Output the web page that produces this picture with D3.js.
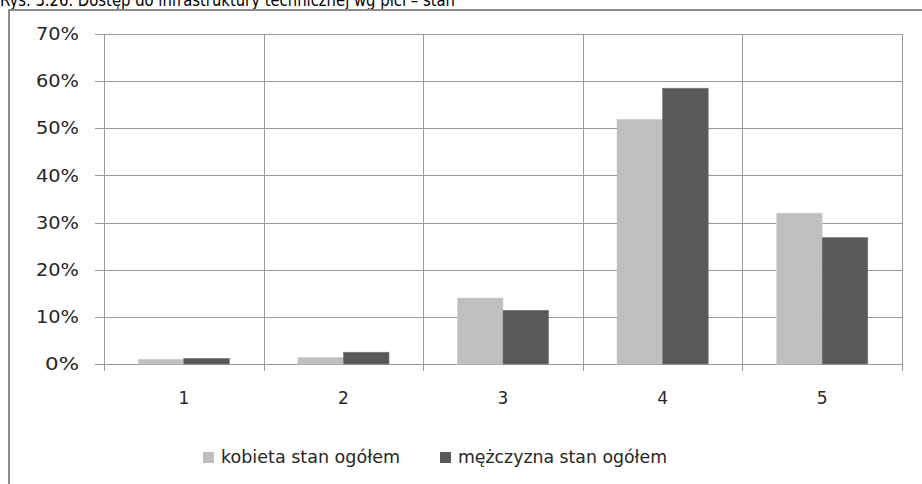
<!DOCTYPE html>
<html>
<head>
<meta charset="utf-8">
<script src="https://cdn.jsdelivr.net/npm/d3@7"></script>
<style>
  body { margin: 0; background: #fff; }
  svg { display: block; font-family: "DejaVu Sans", "Open Sans", sans-serif; }
</style>
</head>
<body>
<svg id="chart" width="922" height="484"></svg>
<script>
const categories = ['1', '2', '3', '4', '5'];
const seriesNames = ['kobieta stan ogółem', 'mężczyzna stan ogółem'];
const kobieta = [0.010, 0.014, 0.140, 0.519, 0.320];
const mezczyzna = [0.012, 0.025, 0.114, 0.585, 0.268];
const yTicks = [0, 0.1, 0.2, 0.3, 0.4, 0.5, 0.6, 0.7];
const colors = ['#bfbfbf', '#595959'];

const svg = d3.select('#chart');
const margin = { top: 34, left: 104 };
const plotW = 902 - margin.left;
const plotH = 364 - margin.top;

// title (cut off at the top, as in the scan)
svg.append('text')
    .attr('x', 0)
    .attr('y', 6)
    .attr('font-size', 17)
    .attr('textLength', 455)
    .attr('lengthAdjust', 'spacingAndGlyphs')
    .attr('fill', '#000')
    .text('Rys. 3.26. Dostęp do infrastruktury technicznej wg płci – stan');

// outer frame
svg.append('path')
    .attr('d', 'M9,484 V10 H922')
    .attr('fill', 'none')
    .attr('stroke', '#8c8c8c')
    .attr('stroke-width', 2);

const g = svg.append('g').attr('transform', `translate(${margin.left},${margin.top})`);

const x = d3.scaleBand().domain(categories).range([0, plotW]);
const y = d3.scaleLinear().domain([0, 0.7]).range([plotH, 0]);
const x1 = d3.scaleBand().domain([0, 1]).range([0, x.bandwidth()]).paddingOuter(0.75).paddingInner(0);

// horizontal gridlines
g.selectAll('.hgrid')
    .data(yTicks)
    .enter().append('line')
    .attr('x1', -9)
    .attr('x2', plotW)
    .attr('y1', d => Math.round(y(d)) + 0.5)
    .attr('y2', d => Math.round(y(d)) + 0.5)
    .attr('stroke', '#9a9a9a');

// vertical gridlines
const vx = categories.map(c => x(c)).concat([plotW]);
g.selectAll('.vgrid')
    .data(vx)
    .enter().append('line')
    .attr('x1', d => Math.round(d) + 0.5)
    .attr('x2', d => Math.round(d) + 0.5)
    .attr('y1', 0)
    .attr('y2', plotH + 7)
    .attr('stroke', '#9a9a9a');

// y labels
g.selectAll('.ylab')
    .data(yTicks)
    .enter().append('text')
    .attr('x', -25)
    .attr('y', d => y(d))
    .attr('dy', '0.36em')
    .attr('text-anchor', 'end')
    .attr('font-size', 17)
    .attr('textLength', d => d === 0 ? 34 : 43)
    .attr('lengthAdjust', 'spacingAndGlyphs')
    .attr('fill', '#262626')
    .text(d => d3.format('.0%')(d));

// x labels
g.selectAll('.xlab')
    .data(categories)
    .enter().append('text')
    .attr('x', d => x(d) + x.bandwidth() / 2)
    .attr('y', plotH + 34)
    .attr('dy', '0.36em')
    .attr('text-anchor', 'middle')
    .attr('font-size', 17)
    .attr('fill', '#262626')
    .text(d => d);

// bars
const series = [kobieta, mezczyzna];
series.forEach((vals, si) => {
    g.selectAll('.bar' + si)
        .data(categories)
        .enter().append('rect')
        .attr('x', d => x(d) + x1(si))
        .attr('y', (d, i) => y(vals[i]))
        .attr('width', x1.bandwidth())
        .attr('height', (d, i) => plotH - y(vals[i]))
        .attr('fill', colors[si])
        .attr('stroke', si === 0 ? '#d0d0d0' : '#777')
        .attr('stroke-width', 0.6);
});

// legend
const legend = svg.append('g').attr('transform', 'translate(203,457)');
const legX = [0, 237];
const legW = [179, 209];
seriesNames.forEach((name, i) => {
    legend.append('rect')
        .attr('x', legX[i])
        .attr('y', -5)
        .attr('width', 11)
        .attr('height', 11)
        .attr('fill', colors[i]);
    legend.append('text')
        .attr('x', legX[i] + 18)
        .attr('y', 0)
        .attr('dy', '0.36em')
        .attr('font-size', 18)
        .attr('textLength', legW[i])
        .attr('lengthAdjust', 'spacingAndGlyphs')
        .attr('fill', '#262626')
        .text(name);
});
</script>
</body>
</html>
